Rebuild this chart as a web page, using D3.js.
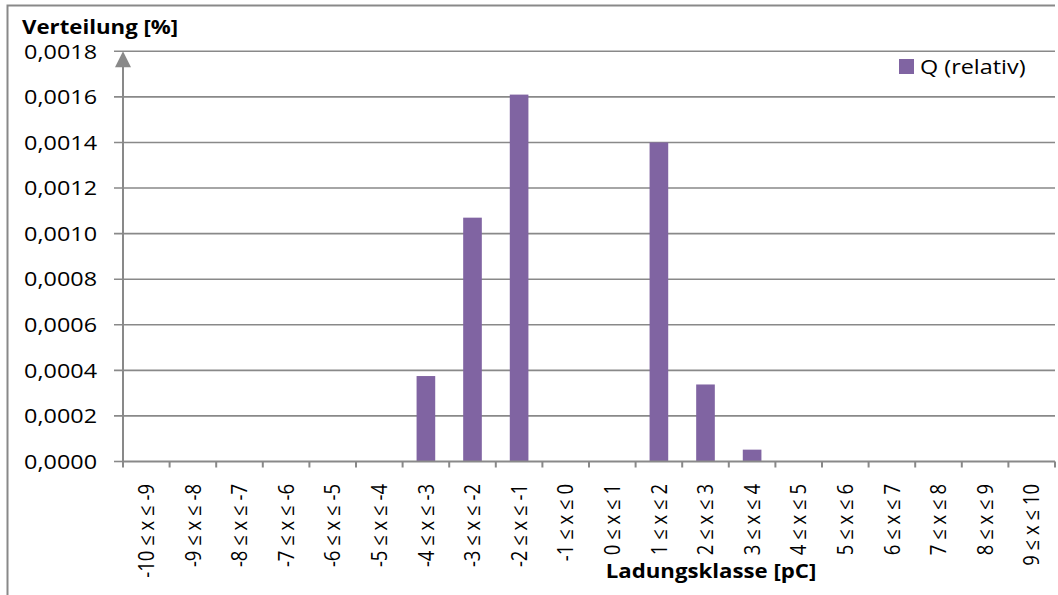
<!DOCTYPE html>
<html>
<head>
<meta charset="utf-8">
<script src="https://cdn.jsdelivr.net/npm/d3@7"></script>
<style>
  html, body { margin: 0; padding: 0; background: #fff; }
  svg { display: block; font-family: "Open Sans", sans-serif; }
</style>
</head>
<body>
<svg id="chart" width="1058" height="595"></svg>
<script>
// Charge classes (pC) and relative share per class
const categories = [
  "-10 ≤ x ≤ -9", "-9 ≤ x ≤ -8", "-8 ≤ x ≤ -7", "-7 ≤ x ≤ -6", "-6 ≤ x ≤ -5",
  "-5 ≤ x ≤ -4", "-4 ≤ x ≤ -3", "-3 ≤ x ≤ -2", "-2 ≤ x ≤ -1", "-1 ≤ x ≤ 0",
  "0 ≤ x ≤ 1", "1 ≤ x ≤ 2", "2 ≤ x ≤ 3", "3 ≤ x ≤ 4", "4 ≤ x ≤ 5",
  "5 ≤ x ≤ 6", "6 ≤ x ≤ 7", "7 ≤ x ≤ 8", "8 ≤ x ≤ 9", "9 ≤ x ≤ 10"
];
const qRelativ = [
  0, 0, 0, 0, 0,
  0, 0.000375, 0.00107, 0.00161, 0,
  0, 0.0014, 0.000338, 0.000052, 0,
  0, 0, 0, 0, 0
];
const yTicks = [0, 0.0002, 0.0004, 0.0006, 0.0008, 0.0010, 0.0012, 0.0014, 0.0016, 0.0018];
const seriesName = "Q (relativ)";
const yTitle = "Verteilung [%]";
const xTitle = "Ladungsklasse [pC]";

const svg = d3.select("#chart");
const grey = "#898989";
const barColor = "#8064A2";
const sx = 1.17; // horizontal glyph stretch

const plot = { left: 123, right: 1055, top: 51.3, bottom: 461.5 };

const x = d3.scaleBand()
  .domain(categories)
  .range([plot.left, plot.right])
  .paddingInner(0.6)
  .paddingOuter(0.3);

const y = d3.scaleLinear()
  .domain([0, 0.0018])
  .range([plot.bottom, plot.top]);

const de = d3.formatLocale({ decimal: ",", thousands: ".", grouping: [3], currency: ["", " €"] });
const fmt = de.format(".4f");

// outer frame
svg.append("path")
  .attr("d", "M7.5,600 V5.5 H1055")
  .attr("fill", "none")
  .attr("stroke", grey)
  .attr("stroke-width", 2);

// horizontal gridlines with their left tick stubs
svg.append("g")
  .selectAll("line")
  .data(yTicks.filter(d => d > 0))
  .join("line")
  .attr("x1", plot.left - 9)
  .attr("x2", plot.right)
  .attr("y1", d => y(d))
  .attr("y2", d => y(d))
  .attr("stroke", grey)
  .attr("stroke-width", 1.6);

// bars
svg.append("g")
  .selectAll("rect")
  .data(categories.map((c, i) => ({ c, v: qRelativ[i] })))
  .join("rect")
  .attr("x", d => x(d.c))
  .attr("width", x.bandwidth())
  .attr("y", d => y(d.v))
  .attr("height", d => y(0) - y(d.v))
  .attr("fill", barColor);

// y axis line with arrow head
svg.append("line")
  .attr("x1", plot.left).attr("x2", plot.left)
  .attr("y1", y(0) + 5).attr("y2", y(0.0018) + 14)
  .attr("stroke", grey).attr("stroke-width", 2);
svg.append("path")
  .attr("d", `M${plot.left},${y(0.0018)} L${plot.left - 8},${y(0.0018) + 16} L${plot.left + 8},${y(0.0018) + 16} Z`)
  .attr("fill", grey);
svg.append("line")
  .attr("x1", plot.left - 9).attr("x2", plot.left)
  .attr("y1", y(0)).attr("y2", y(0))
  .attr("stroke", grey).attr("stroke-width", 1.6);

// x axis line and boundary ticks
svg.append("line")
  .attr("x1", plot.left).attr("x2", plot.right)
  .attr("y1", y(0)).attr("y2", y(0))
  .attr("stroke", grey).attr("stroke-width", 2);
const bounds = d3.range(categories.length + 1).map(i => plot.left + i * (plot.right - plot.left) / categories.length);
svg.append("g")
  .selectAll("line")
  .data(bounds)
  .join("line")
  .attr("x1", d => d).attr("x2", d => d)
  .attr("y1", y(0)).attr("y2", y(0) + 6)
  .attr("stroke", grey).attr("stroke-width", 2);

// y tick labels
svg.append("g")
  .selectAll("text")
  .data(yTicks)
  .join("text")
  .attr("transform", d => `translate(97,${y(d)}) scale(${sx},1)`)
  .attr("dy", "0.36em")
  .attr("text-anchor", "end")
  .attr("font-size", 20)
  .attr("fill", "#000")
  .text(d => fmt(d));

// x tick labels, rotated
svg.append("g")
  .selectAll("text")
  .data(categories)
  .join("text")
  .attr("transform", d => `translate(${x(d) + x.bandwidth() / 2},484) scale(${sx},1) rotate(-90)`)
  .attr("dy", "0.36em")
  .attr("text-anchor", "end")
  .attr("font-size", 18.5)
  .attr("fill", "#000")
  .text(d => d);

// axis titles
svg.append("text")
  .attr("transform", `translate(22,34) scale(${sx},1)`)
  .attr("font-size", 19)
  .attr("font-weight", "bold")
  .text(yTitle);
svg.append("text")
  .attr("transform", `translate(711,578) scale(${sx},1)`)
  .attr("text-anchor", "middle")
  .attr("font-size", 19)
  .attr("font-weight", "bold")
  .text(xTitle);

// legend
const legend = svg.append("g").attr("transform", "translate(899,59)");
legend.append("rect")
  .attr("width", 15).attr("height", 15)
  .attr("fill", barColor);
legend.append("text")
  .attr("transform", `translate(21,15) scale(${sx},1)`)
  .attr("font-size", 20)
  .text(seriesName);
</script>
</body>
</html>
